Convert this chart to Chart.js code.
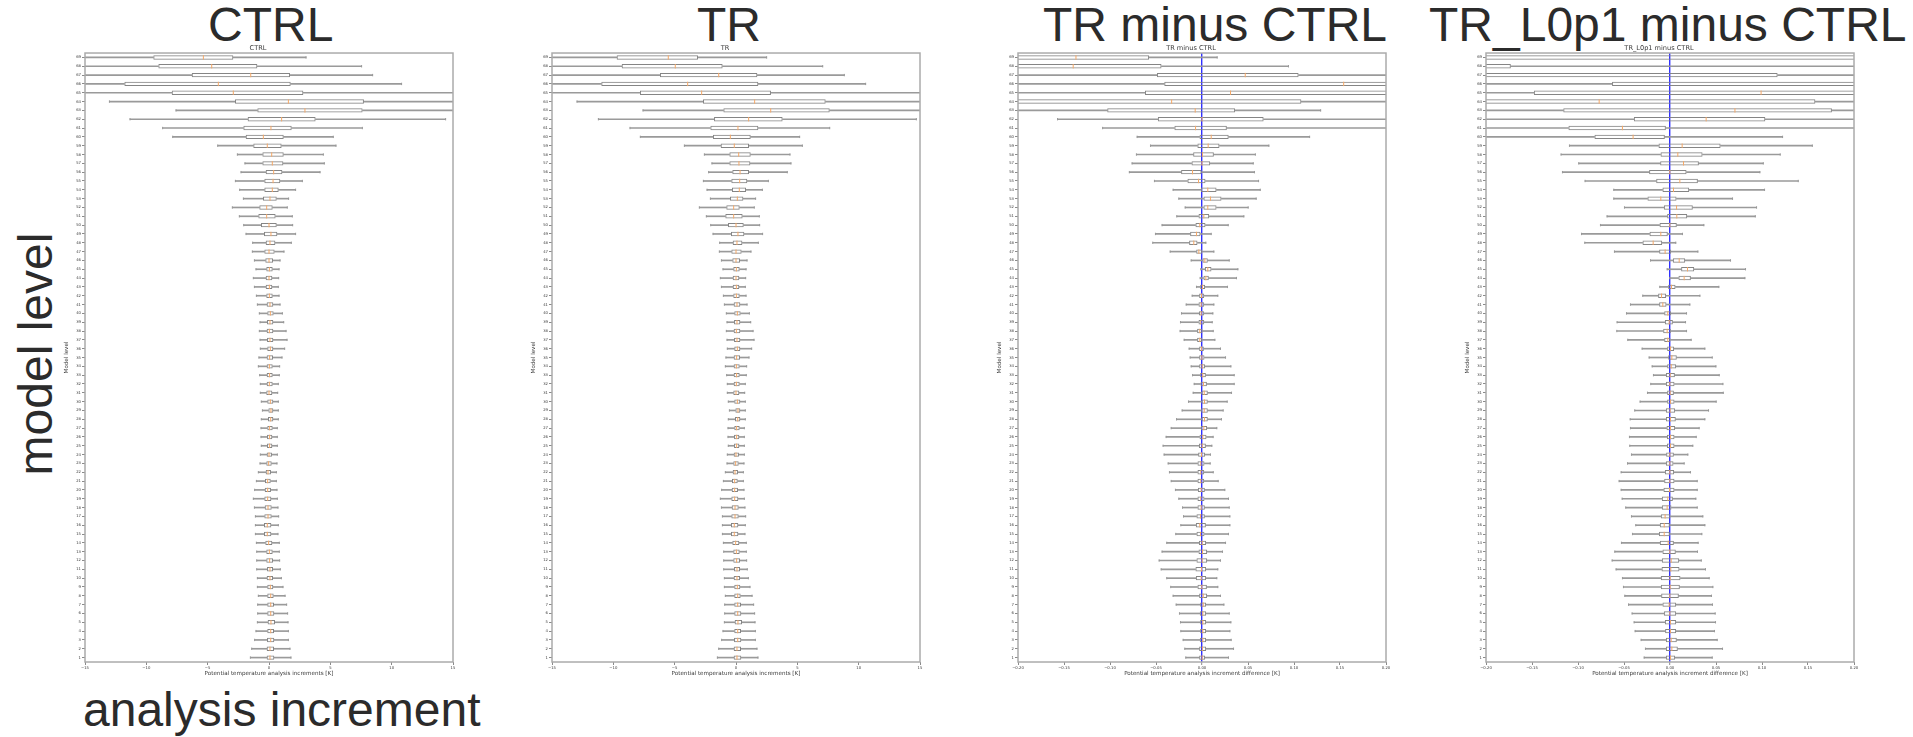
<!DOCTYPE html>
<html><head><meta charset="utf-8">
<script src="https://cdn.jsdelivr.net/npm/chart.js@4/dist/chart.umd.min.js"></script>
<style>
html,body{margin:0;padding:0;background:#fff;width:1913px;height:737px;overflow:hidden;position:relative;font-family:"Liberation Sans",Arial,sans-serif;}
.big{position:absolute;font-size:48px;line-height:48px;color:#2b2b2b;white-space:nowrap;}
canvas{position:absolute;top:40px;}
</style></head><body>
<div class="big" style="left:208px;top:1px">CTRL</div>
<div class="big" style="left:697px;top:1px">TR</div>
<div class="big" style="left:1043px;top:1px">TR minus CTRL</div>
<div class="big" style="left:1429px;top:1px">TR_L0p1 minus CTRL</div>
<div class="big" style="left:-86px;top:330px;width:243px;text-align:center;transform:rotate(-90deg);">model level</div>
<div class="big" style="left:83px;top:686px">analysis increment</div>
<canvas id="c1" width="398" height="639" style="left:63px"></canvas>
<canvas id="c2" width="398" height="639" style="left:530px"></canvas>
<canvas id="c3" width="398" height="639" style="left:996px"></canvas>
<canvas id="c4" width="398" height="639" style="left:1464px"></canvas>
<script>
// model levels, top (69) to bottom (1)
const levels = [];
for (let l = 69; l >= 1; l--) levels.push(String(l));

// ---- CTRL (K), levels 69 -> 1 ----
const ctrlLo = [-17,-17,-17,-17,-17,-13.01,-7.58,-11.33,-8.67,-7.85,-4.18,-2.58,-1.96,-2.28,-2.74,-2.39,-2.09,-2.99,-2.42,-2.06,-1.87,-1.33,-1.36,-1.19,-1.06,-1.28,-1.19,-1.03,-0.95,-0.79,-0.73,-0.79,-0.73,-0.71,-0.82,-0.87,-0.76,-0.71,-0.71,-0.63,-0.54,-0.63,-0.65,-0.65,-0.63,-0.71,-0.73,-0.87,-1.03,-1.17,-1.28,-1.19,-1.11,-1.11,-1.11,-1.03,-1.0,-1.0,-1.0,-0.95,-0.95,-0.87,-0.92,-0.92,-0.95,-1.06,-1.17,-1.41,-1.52];
const ctrlQ1 = [-9.43,-9.02,-6.3,-11.79,-7.93,-2.77,-0.95,-1.74,-2.09,-1.9,-1.28,-0.54,-0.54,-0.27,-0.38,-0.38,-0.49,-0.79,-0.87,-0.65,-0.41,-0.27,-0.38,-0.3,-0.22,-0.27,-0.27,-0.22,-0.19,-0.14,-0.16,-0.19,-0.16,-0.14,-0.19,-0.19,-0.19,-0.19,-0.22,-0.14,-0.05,-0.08,-0.14,-0.16,-0.16,-0.19,-0.22,-0.27,-0.33,-0.35,-0.38,-0.35,-0.38,-0.41,-0.41,-0.3,-0.22,-0.22,-0.16,-0.19,-0.14,-0.14,-0.14,-0.14,-0.11,-0.14,-0.16,-0.19,-0.19];
const ctrlMed = [-5.35,-4.67,-1.49,-4.13,-2.91,1.58,2.93,1.03,0.16,-0.46,-0.14,0.22,0.27,0.38,0.33,0.27,0.08,-0.19,-0.19,0,0.16,0.08,0,0,0.03,0,0.03,0.03,0.08,0.11,0.08,0.03,0.08,0.11,0.05,0.03,0.05,0.03,0,0.11,0.16,0.14,0.05,0.05,0.05,0,-0.03,-0.08,-0.11,-0.11,-0.11,-0.08,-0.08,-0.14,-0.14,-0.03,0.03,0.05,0.08,0.08,0.11,0.14,0.14,0.14,0.16,0.14,0.14,0.08,0.08];
const ctrlQ3 = [-2.91,-0.95,1.71,1.77,2.8,7.74,7.63,3.8,1.85,1.2,1.03,1.2,1.17,1.09,0.92,0.79,0.63,0.3,0.54,0.63,0.68,0.52,0.46,0.33,0.3,0.27,0.27,0.3,0.35,0.38,0.35,0.35,0.35,0.35,0.33,0.3,0.3,0.3,0.27,0.35,0.35,0.35,0.3,0.27,0.27,0.24,0.22,0.16,0.14,0.16,0.19,0.22,0.22,0.19,0.19,0.27,0.3,0.33,0.33,0.33,0.35,0.38,0.41,0.43,0.49,0.41,0.43,0.41,0.43];
const ctrlHi = [3.02,7.55,8.45,10.81,17,17,17,14.4,7.61,5.24,5.46,4.43,4.51,4.16,2.72,2.17,1.6,1.49,1.9,1.93,2.17,1.82,1.22,0.9,0.82,0.79,0.76,0.82,0.9,1.09,1.2,1.39,1.47,1.28,1.06,0.87,0.84,0.76,0.71,0.76,0.76,0.76,0.68,0.68,0.68,0.68,0.65,0.6,0.6,0.65,0.68,0.73,0.79,0.76,0.73,0.84,0.84,0.87,0.92,1.01,1.14,1.31,1.44,1.52,1.55,1.58,1.58,1.71,1.79];

// ---- TR (K), levels 69 -> 1 ----
const trLo = [-17,-17,-17,-17,-17,-12.96,-7.58,-11.22,-8.64,-7.8,-4.21,-2.58,-1.96,-2.23,-2.66,-2.36,-2.09,-2.99,-2.42,-2.06,-1.87,-1.33,-1.36,-1.19,-1.06,-1.28,-1.19,-1.03,-0.95,-0.79,-0.73,-0.79,-0.73,-0.71,-0.82,-0.87,-0.76,-0.71,-0.71,-0.63,-0.54,-0.63,-0.65,-0.65,-0.63,-0.71,-0.73,-0.87,-1.03,-1.17,-1.28,-1.19,-1.11,-1.11,-1.11,-1.03,-1.0,-1.0,-1.0,-0.95,-0.95,-0.87,-0.92,-0.92,-0.95,-1.06,-1.17,-1.41,-1.52];
const trQ1 = [-9.73,-9.32,-6.2,-10.98,-7.83,-2.69,-1.03,-1.79,-2.09,-1.88,-1.25,-0.54,-0.54,-0.3,-0.38,-0.33,-0.49,-0.79,-0.87,-0.65,-0.41,-0.27,-0.38,-0.3,-0.22,-0.27,-0.27,-0.22,-0.19,-0.14,-0.16,-0.19,-0.16,-0.14,-0.19,-0.19,-0.19,-0.19,-0.22,-0.14,-0.05,-0.08,-0.14,-0.16,-0.16,-0.19,-0.22,-0.27,-0.33,-0.35,-0.38,-0.35,-0.38,-0.41,-0.41,-0.3,-0.22,-0.22,-0.16,-0.19,-0.14,-0.14,-0.14,-0.14,-0.11,-0.14,-0.16,-0.19,-0.19];
const trMed = [-5.52,-4.95,-1.41,-3.94,-2.8,1.52,2.83,1.03,0.16,-0.46,-0.14,0.22,0.24,0.33,0.3,0.27,0.11,-0.19,-0.19,0,0.16,0.08,0,0,0.03,0,0.03,0.03,0.08,0.11,0.08,0.03,0.08,0.11,0.05,0.03,0.05,0.03,0,0.11,0.16,0.14,0.05,0.05,0.05,0,-0.03,-0.08,-0.11,-0.11,-0.11,-0.08,-0.08,-0.14,-0.14,-0.03,0.03,0.05,0.08,0.08,0.11,0.14,0.14,0.14,0.16,0.14,0.14,0.08,0.08];
const trQ3 = [-3.1,-1.09,1.74,1.82,2.85,7.31,7.64,3.8,1.82,1.2,1.06,1.2,1.17,1.06,0.92,0.82,0.6,0.3,0.54,0.63,0.68,0.52,0.46,0.33,0.3,0.27,0.27,0.3,0.35,0.38,0.35,0.35,0.35,0.35,0.33,0.3,0.3,0.3,0.27,0.35,0.35,0.35,0.3,0.27,0.27,0.24,0.22,0.16,0.14,0.16,0.19,0.22,0.22,0.19,0.19,0.27,0.3,0.33,0.33,0.33,0.35,0.38,0.41,0.43,0.49,0.41,0.43,0.41,0.43];
const trHi = [2.5,7.07,8.83,10.57,17,17,17,14.7,7.64,5.19,5.41,4.4,4.48,4.18,2.64,2.15,1.6,1.49,1.9,1.93,2.17,1.82,1.22,0.9,0.82,0.79,0.76,0.82,0.9,1.09,1.2,1.39,1.47,1.28,1.06,0.87,0.84,0.76,0.71,0.76,0.76,0.76,0.68,0.68,0.68,0.68,0.65,0.6,0.6,0.65,0.68,0.73,0.79,0.76,0.73,0.84,0.84,0.87,0.92,1.01,1.14,1.31,1.44,1.52,1.55,1.58,1.58,1.71,1.79];

// ---- TR minus CTRL (K), levels 69 -> 1 ----
const d1Lo = [-0.3,-0.3,-0.3,-0.3,-0.3,-0.3,-0.3,-0.157,-0.108,-0.0705,-0.056,-0.0713,-0.076,-0.079,-0.0517,-0.0314,-0.0252,-0.0183,-0.0274,-0.0434,-0.0506,-0.0535,-0.0346,-0.0118,-0.0013,-0.002,-0.006,-0.0107,-0.0172,-0.0223,-0.0234,-0.0238,-0.0194,-0.014,-0.0129,-0.0118,-0.0103,-0.0085,-0.0096,-0.0147,-0.0216,-0.0277,-0.0335,-0.039,-0.0423,-0.0412,-0.0368,-0.0354,-0.0335,-0.0289,-0.0252,-0.0212,-0.0201,-0.023,-0.0285,-0.0383,-0.0434,-0.0466,-0.0444,-0.0383,-0.034,-0.0314,-0.0281,-0.0245,-0.0234,-0.023,-0.0205,-0.0187,-0.0176];
const d1Q1 = [-0.21,-0.21,-0.049,-0.041,-0.062,-0.21,-0.103,-0.048,-0.03,-0.0027,-0.005,-0.0096,-0.0114,-0.0227,-0.0158,-0.0013,0.0016,0.0016,-0.0038,-0.0071,-0.0129,-0.014,-0.0063,0.0005,0.0031,0.0016,-0.002,-0.0031,-0.0038,-0.0034,-0.0038,-0.0053,-0.0053,-0.0031,-0.0031,-0.0031,-0.002,-0.0016,-0.0005,-0.0005,-0.0009,-0.0005,-0.0013,-0.0027,-0.0034,-0.0042,-0.0049,-0.0049,-0.0049,-0.0045,-0.0049,-0.0049,-0.006,-0.0067,-0.006,-0.0034,-0.0038,-0.006,-0.0071,-0.0067,-0.0049,-0.0031,-0.002,-0.0024,-0.002,-0.002,-0.0024,-0.0031,-0.0031];
const d1Med = [-0.137,-0.14,0.047,0.154,0.031,-0.033,-0.0074,0,-0.007,0.01,0.0067,0.0005,0,-0.0103,-0.0038,0.0063,0.0092,0.0063,0.002,-0.0024,-0.006,-0.0089,-0.0034,0.0031,0.0063,0.0042,0.0005,-0.0005,-0.0009,-0.0009,-0.0013,-0.0024,-0.0024,-0.0005,-0.0002,0.0002,0.0009,0.0016,0.0024,0.0027,0.0024,0.0027,0.002,0.0009,0.0002,-0.0005,-0.0013,-0.0013,-0.0013,-0.0009,-0.0013,-0.0009,-0.0016,-0.0024,-0.0016,0.0002,0.0005,0.0002,-0.0005,-0.0009,-0.0002,0.0013,0.0013,0.0009,0.0009,0.0009,0.0009,0.0005,0.0002];
const d1Q3 = [-0.0575,-0.044,0.105,0.21,0.21,0.108,0.036,0.067,0.027,0.029,0.019,0.0129,0.0089,-0.0005,0.0038,0.0158,0.0212,0.0158,0.0078,0.0038,-0.0016,-0.0049,0.0002,0.0063,0.0103,0.0074,0.0034,0.0024,0.0024,0.0024,0.0024,0.0005,0.0002,0.002,0.0027,0.0034,0.0042,0.0053,0.0063,0.0063,0.0063,0.0063,0.0056,0.0049,0.0042,0.0034,0.0027,0.0024,0.0024,0.0031,0.0027,0.0031,0.0031,0.0042,0.0027,0.0045,0.0056,0.0056,0.0045,0.0045,0.0053,0.0056,0.0045,0.0045,0.0045,0.0045,0.0045,0.0045,0.0034];
const d1Hi = [0.0165,0.094,0.3,0.3,0.3,0.3,0.129,0.3,0.3,0.117,0.0727,0.058,0.0557,0.057,0.0615,0.0633,0.0589,0.0502,0.0455,0.0285,0.01,0.0042,0.0129,0.0296,0.039,0.0375,0.0277,0.0172,0.0129,0.0118,0.0111,0.0122,0.014,0.0201,0.0256,0.0314,0.035,0.035,0.0321,0.0274,0.023,0.0212,0.0161,0.0121,0.0107,0.0092,0.0089,0.0122,0.0176,0.0248,0.0288,0.0296,0.0303,0.0303,0.0288,0.0256,0.0223,0.0201,0.0172,0.0161,0.0172,0.0201,0.0238,0.0296,0.0314,0.0303,0.0317,0.0343,0.0288];

// ---- TR_L0p1 minus CTRL (K), levels 69 -> 1 ----
const d2Lo = [-0.5,-0.5,-0.5,-0.5,-0.5,-0.5,-0.5,-0.5,-0.5,-0.5,-0.1093,-0.1184,-0.0992,-0.1169,-0.0923,-0.0611,-0.0611,-0.0495,-0.0684,-0.0756,-0.0962,-0.0926,-0.0604,-0.0212,-0.0031,-0.0002,-0.0111,-0.0296,-0.043,-0.0473,-0.0575,-0.0578,-0.0459,-0.0303,-0.0227,-0.0194,-0.018,-0.0209,-0.0245,-0.0325,-0.0383,-0.0433,-0.043,-0.0441,-0.0437,-0.0419,-0.0462,-0.0531,-0.0553,-0.0531,-0.052,-0.0481,-0.0419,-0.0372,-0.0408,-0.0528,-0.06,-0.0629,-0.0586,-0.0517,-0.0506,-0.0491,-0.0451,-0.0412,-0.039,-0.0379,-0.0314,-0.0267,-0.0281];
const d2Q1 = [-0.3,-0.25,-0.25,-0.063,-0.148,-0.25,-0.116,-0.0393,-0.1104,-0.0821,-0.0125,-0.0103,-0.0107,-0.0227,-0.015,-0.0082,-0.0245,-0.0067,-0.0031,-0.0114,-0.0223,-0.0299,-0.0118,0.0031,0.0121,0.0092,-0.002,-0.0129,-0.0118,-0.0063,-0.0056,-0.0074,-0.0063,-0.0031,-0.002,-0.0031,-0.0045,-0.0045,-0.0031,-0.0031,-0.0045,-0.0045,-0.0038,-0.0034,-0.0034,-0.0042,-0.0045,-0.0056,-0.0063,-0.0071,-0.0089,-0.0089,-0.01,-0.0111,-0.0121,-0.0111,-0.0082,-0.0089,-0.0092,-0.01,-0.01,-0.0096,-0.0082,-0.0067,-0.0056,-0.0053,-0.0045,-0.0045,-0.0045];
const d2Med = [0.22,-0.21,-0.22,0.22,0.099,-0.077,0.0706,0.0393,-0.0517,-0.0401,0.0132,0.0085,0.0147,-0.0002,0.0107,0.0038,-0.01,0.0071,0.0074,-0.0002,-0.01,-0.0183,-0.0053,0.01,0.019,0.0154,0.0016,-0.0092,-0.0078,-0.0024,-0.0009,-0.0031,-0.0024,0.0005,0.002,0.0013,0.0002,-0.0002,0.0002,0.0005,0.0002,0.0005,0.0005,0.0005,0.0005,-0.0002,-0.0002,-0.0002,-0.0002,-0.0005,-0.0024,-0.0031,-0.0053,-0.0063,-0.0063,-0.002,-0.0002,0.0013,0.0009,0.0002,0.0002,-0.0002,-0.0009,-0.0002,0.0005,0.0005,0.0013,0.002,0.0005];
const d2Q3 = [0.3,-0.173,0.117,0.25,0.25,0.158,0.176,0.1036,-0.0045,-0.0056,0.055,0.0354,0.0314,0.018,0.0303,0.0209,0.0071,0.0248,0.0187,0.0074,-0.0024,-0.0085,0.0013,0.0165,0.0263,0.0227,0.006,-0.0042,-0.0038,0.0013,0.0031,0.0009,0.0005,0.0045,0.0074,0.0067,0.0053,0.0049,0.0042,0.0049,0.0056,0.0063,0.0056,0.0049,0.0049,0.0042,0.0038,0.0045,0.0049,0.0049,0.0031,0.0016,0.0005,-0.0002,-0.0002,0.0042,0.0063,0.01,0.0103,0.0114,0.0107,0.0096,0.0067,0.0067,0.0067,0.0067,0.0074,0.0085,0.0056];
const d2Hi = [0.5,0.5,0.5,0.5,0.5,0.5,0.5,0.5,0.5,0.1224,0.1547,0.1198,0.1014,0.0977,0.1394,0.1028,0.068,0.0941,0.0927,0.0368,0.0136,0.0063,0.0303,0.0658,0.0821,0.0814,0.0531,0.0325,0.0216,0.018,0.0169,0.018,0.023,0.0379,0.0459,0.0499,0.0535,0.0575,0.0579,0.0502,0.0419,0.0379,0.0317,0.0285,0.0248,0.0194,0.0154,0.0223,0.0296,0.0296,0.0281,0.0296,0.0357,0.0379,0.0346,0.0306,0.0299,0.034,0.0386,0.0426,0.0466,0.0451,0.0462,0.0491,0.0495,0.0484,0.0513,0.0571,0.0459];

const incTicks = [-15, 15, 5];
const diffTicks = [-0.2, 0.2, 0.05];

const LINE = '#858585', WHISK = '#9a9a9a', MED = '#f6a866', SPINE = '#ababab', TXT = '#3a3a3a', ZERO = '#3030ff';
const SMALL = 'DejaVu Sans';

const frame = {
  id: 'frame',
  afterDatasetsDraw(chart) {
    const {ctx, chartArea: a} = chart;
    ctx.save();
    ctx.strokeStyle = SPINE; ctx.lineWidth = 1.5;
    ctx.strokeRect(a.left, a.top, a.right - a.left, a.bottom - a.top);
    ctx.restore();
  }
};

function makePanel(id, title, xTitle, lo, q1, med, q3, hi, tk, dec, zeroLine) {
  const pts = arr => arr.map((v, i) => ({x: v, y: levels[i]}));
  const isZero = c => zeroLine && c.tick && Math.abs(c.tick.value) < 1e-9;
  const datasets = [
    {type: 'bar', data: levels.map((l, i) => [q1[i], q3[i]]), backgroundColor: 'rgba(0,0,0,0)',
     borderColor: LINE, borderWidth: 1, borderSkipped: false, grouped: false,
     barPercentage: 0.5, categoryPercentage: 1, order: 2, clip: 0},
    {type: 'bar', data: levels.map((l, i) => [lo[i], q1[i]]), backgroundColor: WHISK,
     borderWidth: 0, grouped: false, barThickness: 1, order: 3, clip: 0},
    {type: 'bar', data: levels.map((l, i) => [q3[i], hi[i]]), backgroundColor: WHISK,
     borderWidth: 0, grouped: false, barThickness: 1, order: 3, clip: 0},
    {type: 'scatter', data: pts(lo).concat(pts(hi)), pointStyle: 'line', pointRotation: 90,
     pointRadius: 1.2, pointBorderColor: WHISK, pointBorderWidth: 1, order: 3, clip: 0},
    {type: 'scatter', data: pts(med), pointStyle: 'line', pointRotation: 90,
     pointRadius: 2.2, pointBorderColor: MED, pointBorderWidth: 1, order: 1, clip: 0}
  ];
  const scales = {
    x: {type: 'linear', min: tk[0], max: tk[1], z: 1,
        ticks: {stepSize: tk[2], maxRotation: 0, padding: 1, color: TXT,
                font: {size: 3.8, family: SMALL},
                callback: v => (Math.abs(v) < 1e-9 ? 0 : v).toFixed(dec).replace('-', '\u2212')},
        grid: {drawOnChartArea: zeroLine, tickLength: 3, tickColor: '#8a8a8a', tickWidth: 1,
               color: c => isZero(c) ? ZERO : 'rgba(0,0,0,0)',
               lineWidth: c => isZero(c) ? 1.4 : 1},
        border: {display: false},
        title: {display: true, text: xTitle, color: TXT, font: {size: 5.6, family: SMALL}, padding: {top: 0, bottom: 2}},
        afterFit(s) { s.height = 17; }},
    y: {type: 'category', offset: true,
        ticks: {autoSkip: false, padding: 1, color: TXT, font: {size: 3.8, family: SMALL}},
        grid: {drawOnChartArea: false, tickLength: 3, color: '#8a8a8a', offset: false},
        border: {display: false},
        title: {display: true, text: 'Model level', color: TXT, font: {size: 5.6, family: SMALL}, padding: 0},
        afterFit(s) { s.width = 22; }}
  };
  new Chart(document.getElementById(id), {
    type: 'bar',
    data: {labels: levels, datasets},
    options: {
      indexAxis: 'y', responsive: false, devicePixelRatio: 1, animation: false, events: [],
      layout: {padding: {left: 0, right: 8, top: 0, bottom: 0}},
      scales,
      plugins: {
        legend: {display: false}, tooltip: {enabled: false},
        title: {display: true, text: title, color: TXT, font: {size: 6.6, family: SMALL, weight: 'normal'}, padding: {top: 4, bottom: 1.1}}
      }
    },
    plugins: [frame]
  });
}

makePanel('c1', 'CTRL', 'Potential temperature analysis increments [K]', ctrlLo, ctrlQ1, ctrlMed, ctrlQ3, ctrlHi, incTicks, 0, false);
makePanel('c2', 'TR', 'Potential temperature analysis increments [K]', trLo, trQ1, trMed, trQ3, trHi, incTicks, 0, false);
makePanel('c3', 'TR minus CTRL', 'Potential temperature analysis increment difference [K]', d1Lo, d1Q1, d1Med, d1Q3, d1Hi, diffTicks, 2, true);
makePanel('c4', 'TR_L0p1 minus CTRL', 'Potential temperature analysis increment difference [K]', d2Lo, d2Q1, d2Med, d2Q3, d2Hi, diffTicks, 2, true);
</script>
</body></html>
